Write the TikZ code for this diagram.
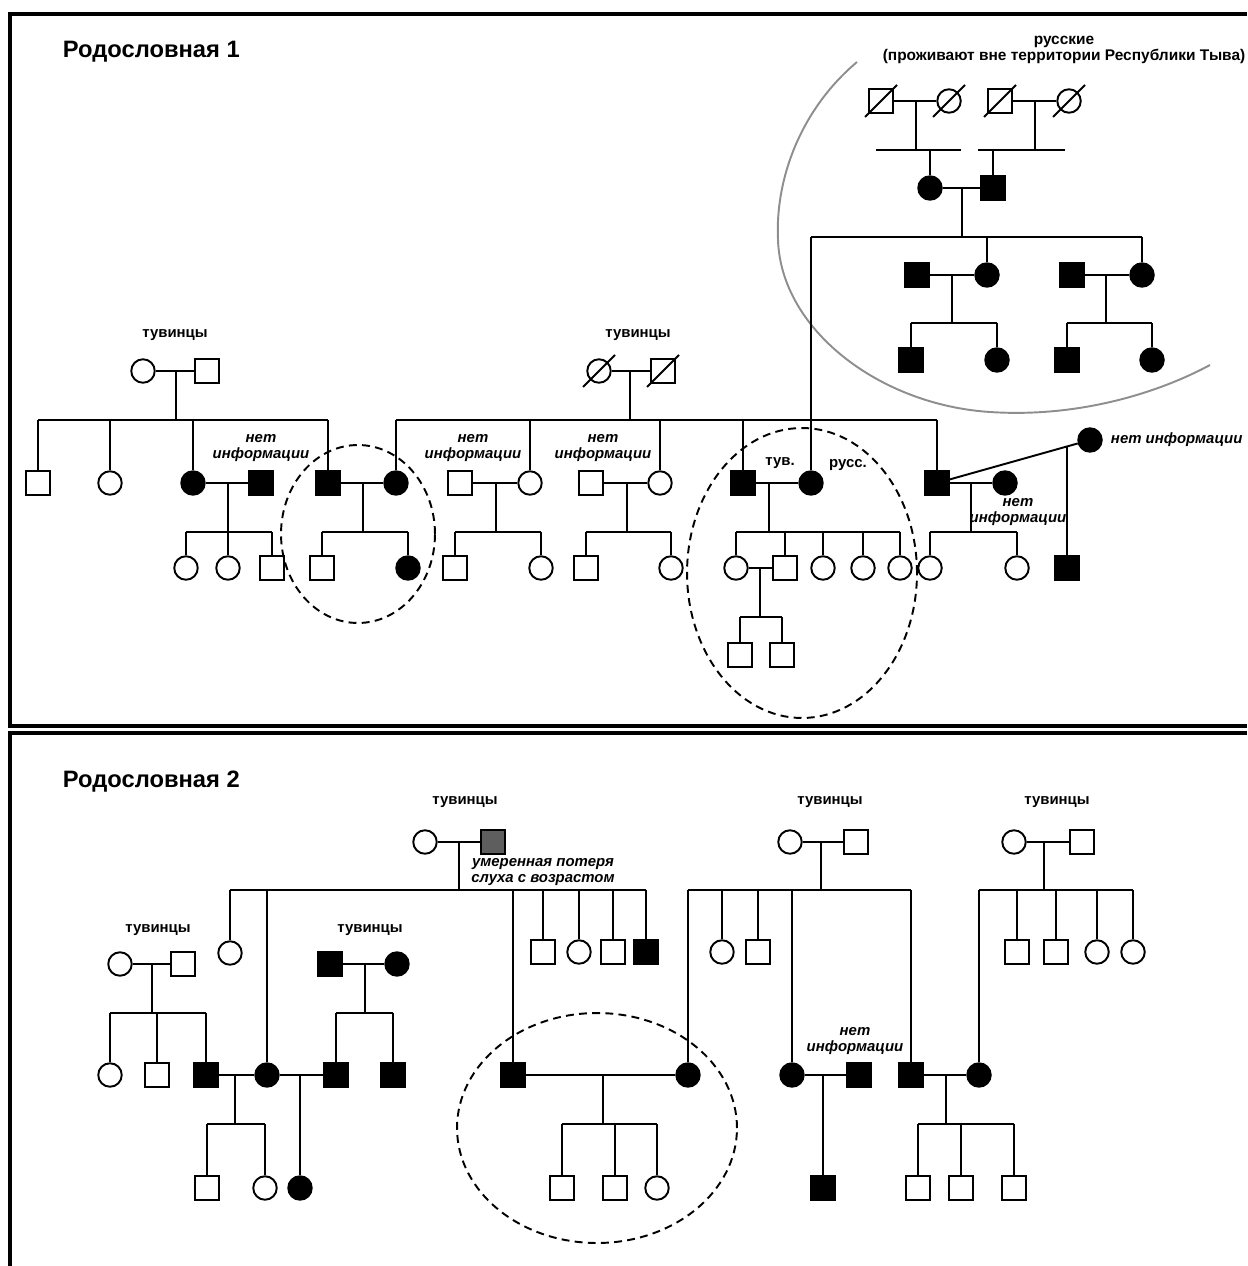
\documentclass[tikz,border=0pt]{standalone}
\usepackage{fontspec}
\setmainfont{Liberation Sans}
\usetikzlibrary{calc}
\definecolor{hearloss}{HTML}{5E5E5E}
\definecolor{ringgray}{HTML}{8E8E8E}

\begin{document}
\begin{tikzpicture}[x=0.02cm,y=-0.02cm,line width=1.1pt,
  sq/.style={draw,rectangle,minimum size=0.48cm,inner sep=0pt},
  ci/.style={draw,circle,minimum size=0.47cm,inner sep=0pt},
  aff/.style={fill=black},
  tag/.style={font=\bfseries\fontsize{8.5}{9}\selectfont,inner sep=0pt},
  note/.style={font=\bfseries\itshape\fontsize{8.5}{9}\selectfont,align=center,inner sep=0pt},
  headline/.style={font=\bfseries\fontsize{13.5}{16}\selectfont,anchor=west,inner sep=0pt},
  ring/.style={dash pattern=on 4.5pt off 3pt}]
  \useasboundingbox (0,0) rectangle (1247,1266);

  % frames
  \draw[line width=2.2pt] (1247,14) -- (10,14) -- (10,726) -- (1247,726);
  \draw[line width=2.2pt] (1247,733) -- (10,733) -- (10,1266);

  %%%%%%%%%% pedigree 1
  \node[headline] (t1) at (62,52) {Родословная 1};

  % Russian family
  \node[tag,align=center,font=\bfseries\fontsize{8.8}{9}\selectfont] (rusl) at (1064,50) {русские\\(проживают вне территории Республики Тыва)};
  \node[sq] (rA1) at (881,101) {};
  \node[ci] (rA2) at (949,101) {};
  \node[sq] (rA3) at (1000,101) {};
  \node[ci] (rA4) at (1069,101) {};
  \foreach \n in {rA1,rA2,rA3,rA4} \draw ($(\n)+(-16,16)$) -- ($(\n)+(16,-16)$);
  \node[ci,aff] (rB1) at (930,188) {};
  \node[sq,aff] (rB2) at (993,188) {};
  \node[sq,aff] (rC1) at (917,275) {};
  \node[ci,aff] (rC2) at (987,275) {};
  \node[sq,aff] (rC3) at (1072,275) {};
  \node[ci,aff] (rC4) at (1142,275) {};
  \node[sq,aff] (rD1) at (911,360) {};
  \node[ci,aff] (rD2) at (997,360) {};
  \node[sq,aff] (rD3) at (1067,360) {};
  \node[ci,aff] (rD4) at (1152,360) {};

  \coordinate (mrA) at (916,101); \coordinate (srA) at (916,150);
  \coordinate (mrA2) at (1035,101); \coordinate (srA2) at (1035,150);
  \coordinate (mrB) at (962,188); \coordinate (srB) at (962,237);
  \coordinate (mrC) at (952,275); \coordinate (srC) at (952,323);
  \coordinate (mrC2) at (1106,275); \coordinate (srC2) at (1106,323);
  \draw (rA1) -- (rA2); \draw (mrA) -- (srA);
  \draw ($(srA)+(-40,0)$) -- ($(srA)+(45,0)$);
  \draw (rB1 |- srA) -- (rB1);
  \draw (rA3) -- (rA4); \draw (mrA2) -- (srA2);
  \draw ($(srA2)+(-57,0)$) -- ($(srA2)+(30,0)$);
  \draw (rB2 |- srA2) -- (rB2);
  \draw (rB1) -- (rB2); \draw (mrB) -- (srB);
  \draw (rC1) -- (rC2); \draw (mrC) -- (srC);
  \draw (rD1 |- srC) -- (rD2 |- srC);
  \foreach \c in {rD1,rD2} \draw (\c |- srC) -- (\c);
  \draw (rC3) -- (rC4); \draw (mrC2) -- (srC2);
  \draw (rD3 |- srC2) -- (rD4 |- srC2);
  \foreach \c in {rD3,rD4} \draw (\c |- srC2) -- (\c);

  % grey border of the Russian group
  \draw[ringgray] (857,62) .. controls (800,110) and (775,180) .. (778,240)
    .. controls (781,330) and (880,405) .. (990,412)
    .. controls (1080,418) and (1160,392) .. (1210,365);

  % first Tuvan couple
  \node[tag] (tl1) at (175,335) {тувинцы};
  \node[ci] (tA1) at (143,371) {};
  \node[sq] (tA2) at (207,371) {};
  \node[sq] (tB1) at (38,483) {};
  \node[ci] (tB2) at (110,483) {};
  \node[ci,aff] (tB3) at (193,483) {};
  \node[sq,aff] (tB3p) at (261,483) {};
  \node[note] (tn1) at (261,448) {нет\\информации};
  \node[sq,aff] (tB4) at (328,483) {};
  \node[ci] (tC1) at (186,568) {};
  \node[ci] (tC2) at (228,568) {};
  \node[sq] (tC3) at (272,568) {};
  \node[sq] (tC4) at (322,568) {};
  \node[ci,aff] (tC5) at (408,568) {};

  \coordinate (mtA) at (176,371); \coordinate (stA) at (176,420);
  \coordinate (mtB) at (228,483); \coordinate (stB) at (228,532);
  \coordinate (mtu) at (363,483); \coordinate (stu) at (363,532);
  \draw (tA1) -- (tA2); \draw (mtA) -- (stA);
  \draw (tB1 |- stA) -- (tB4 |- stA);
  \foreach \c in {tB1,tB2,tB3,tB4} \draw (\c |- stA) -- (\c);
  \draw (tB3) -- (tB3p); \draw (mtB) -- (stB);
  \draw (tC1 |- stB) -- (tC3 |- stB);
  \foreach \c in {tC1,tC2,tC3} \draw (\c |- stB) -- (\c);

  % second Tuvan couple
  \node[tag] (tl2) at (638,335) {тувинцы};
  \node[ci] (uA1) at (599,371) {};
  \node[sq] (uA2) at (663,371) {};
  \foreach \n in {uA1,uA2} \draw ($(\n)+(-16,16)$) -- ($(\n)+(16,-16)$);
  \node[ci,aff] (uB1) at (396,483) {};
  \node[sq] (uB2p) at (460,483) {};
  \node[note] (un1) at (473,448) {нет\\информации};
  \node[ci] (uB2) at (530,483) {};
  \node[sq] (uB3p) at (591,483) {};
  \node[note] (un2) at (603,448) {нет\\информации};
  \node[ci] (uB3) at (660,483) {};
  \node[sq,aff] (uB4) at (743,483) {};
  \node[tag] (tuv) at (780,463) {тув.};
  \node[ci,aff] (pR) at (811,483) {};
  \node[tag] (rus) at (848,465) {русс.};
  \node[sq,aff] (uB5) at (937,483) {};
  \node[ci,aff] (uB5a) at (1005,483) {};
  \node[note] (un3) at (1018,512) {нет\\информации};
  \node[ci,aff] (uB5b) at (1090,440) {};
  \node[note,anchor=west] (un4) at (1110,440) {нет информации};
  \node[sq] (uC1) at (455,568) {};
  \node[ci] (uC2) at (541,568) {};
  \node[sq] (uC3) at (586,568) {};
  \node[ci] (uC4) at (671,568) {};
  \node[ci] (uC5) at (736,568) {};
  \node[sq] (uC6) at (785,568) {};
  \node[ci] (uC7) at (823,568) {};
  \node[ci] (uC8) at (863,568) {};
  \node[ci] (uC9) at (900,568) {};
  \node[ci] (uC10) at (930,568) {};
  \node[ci] (uC11) at (1017,568) {};
  \node[sq,aff] (uC12) at (1067,568) {};
  \node[sq] (uD1) at (740,655) {};
  \node[sq] (uD2) at (782,655) {};

  \coordinate (muA) at (630,371); \coordinate (suA) at (630,420);
  \coordinate (mu2) at (496,483); \coordinate (su2) at (496,532);
  \coordinate (mu3) at (627,483); \coordinate (su3) at (627,532);
  \coordinate (mu4) at (769,483); \coordinate (su4) at (769,532);
  \coordinate (mu5) at (971,483); \coordinate (su5) at (971,532);
  \coordinate (mu6) at (760,568); \coordinate (su6) at (760,617);
  \coordinate (mu7) at ($(uB5)!0.85!(uB5b)$);
  \draw (uA1) -- (uA2); \draw (muA) -- (suA);
  \draw (uB1 |- suA) -- (uB5 |- suA);
  \foreach \c in {uB1,uB2,uB3,uB4,uB5} \draw (\c |- suA) -- (\c);
  \draw (tB4) -- (uB1); \draw (mtu) -- (stu);
  \draw (tC4 |- stu) -- (tC5 |- stu);
  \foreach \c in {tC4,tC5} \draw (\c |- stu) -- (\c);
  \draw (uB2p) -- (uB2); \draw (mu2) -- (su2);
  \draw (uC1 |- su2) -- (uC2 |- su2);
  \foreach \c in {uC1,uC2} \draw (\c |- su2) -- (\c);
  \draw (uB3p) -- (uB3); \draw (mu3) -- (su3);
  \draw (uC3 |- su3) -- (uC4 |- su3);
  \foreach \c in {uC3,uC4} \draw (\c |- su3) -- (\c);
  \draw (uB4) -- (pR); \draw (mu4) -- (su4);
  \draw (uC5 |- su4) -- (uC9 |- su4);
  \foreach \c in {uC5,uC6,uC7,uC8,uC9} \draw (\c |- su4) -- (\c);
  \draw (uC5) -- (uC6); \draw (mu6) -- (su6);
  \draw (uD1 |- su6) -- (uD2 |- su6);
  \foreach \c in {uD1,uD2} \draw (\c |- su6) -- (\c);
  \draw (uB5) -- (uB5a); \draw (mu5) -- (su5);
  \draw (uC10 |- su5) -- (uC11 |- su5);
  \foreach \c in {uC10,uC11} \draw (\c |- su5) -- (\c);
  \draw (uB5) -- (uB5b); \draw (mu7) -- (mu7 |- uC12.north);

  % Russian line down to the wife
  \draw (pR |- srB) -- (rC4 |- srB);
  \foreach \c in {pR,rC2,rC4} \draw (\c |- srB) -- (\c);

  % dashed rings
  \draw[ring] (358,534) ellipse [x radius=1.54cm, y radius=1.78cm];
  \draw[ring] (802,573) ellipse [x radius=2.3cm, y radius=2.9cm];

  %%%%%%%%%% pedigree 2
  \node[headline] (t2) at (62,782) {Родословная 2};

  \node[tag] (vl) at (465,802) {тувинцы};
  \node[ci] (vA1) at (425,842) {};
  \node[sq,fill=hearloss] (vA2) at (493,842) {};
  \node[note] (vn) at (543,872) {умеренная потеря\\слуха с возрастом};
  \node[ci] (vB1) at (230,953) {};
  \node[sq] (vB4) at (543,952) {};
  \node[ci] (vB5) at (579,952) {};
  \node[sq] (vB6) at (613,952) {};
  \node[sq,aff] (vB7) at (646,952) {};

  \node[tag] (xl) at (830,802) {тувинцы};
  \node[ci] (xA1) at (790,842) {};
  \node[sq] (xA2) at (856,842) {};
  \node[ci] (xB1) at (722,952) {};
  \node[sq] (xB2) at (758,952) {};

  \node[tag] (yl) at (1057,802) {тувинцы};
  \node[ci] (yA1) at (1014,842) {};
  \node[sq] (yA2) at (1082,842) {};
  \node[sq] (yB1) at (1017,952) {};
  \node[sq] (yB2) at (1056,952) {};
  \node[ci] (yB3) at (1097,952) {};
  \node[ci] (yB4) at (1133,952) {};

  \node[tag] (wl) at (158,930) {тувинцы};
  \node[ci] (wA1) at (120,964) {};
  \node[sq] (wA2) at (183,964) {};
  \node[tag] (zl) at (370,930) {тувинцы};
  \node[sq,aff] (zA1) at (330,964) {};
  \node[ci,aff] (zA2) at (397,964) {};

  % third generation
  \node[ci] (wB1) at (110,1075) {};
  \node[sq] (wB2) at (157,1075) {};
  \node[sq,aff] (wB3) at (206,1075) {};
  \node[ci,aff] (vB2) at (267,1075) {};
  \node[sq,aff] (zB1) at (336,1075) {};
  \node[sq,aff] (zB2) at (393,1075) {};
  \node[sq,aff] (vB3) at (513,1075) {};
  \node[ci,aff] (xB0) at (688,1075) {};
  \node[ci,aff] (xB3) at (792,1075) {};
  \node[sq,aff] (xB3p) at (859,1075) {};
  \node[note] (xn) at (855,1041) {нет\\информации};
  \node[sq,aff] (xB4) at (911,1075) {};
  \node[ci,aff] (yB0) at (979,1075) {};

  % fourth generation
  \node[sq] (wC1) at (207,1188) {};
  \node[ci] (wC2) at (265,1188) {};
  \node[ci,aff] (zC1) at (300,1188) {};
  \node[sq] (vC1) at (562,1188) {};
  \node[sq] (vC2) at (615,1188) {};
  \node[ci] (vC3) at (657,1188) {};
  \node[sq,aff] (xC1) at (823,1188) {};
  \node[sq] (xC2) at (918,1188) {};
  \node[sq] (xC3) at (961,1188) {};
  \node[sq] (xC4) at (1014,1188) {};

  \coordinate (mvA) at (459,842); \coordinate (svA) at (459,890);
  \coordinate (mxA) at (821,842); \coordinate (sxA) at (821,890);
  \coordinate (myA) at (1044,842); \coordinate (syA) at (1044,890);
  \coordinate (mwA) at (152,964); \coordinate (swA) at (152,1013);
  \coordinate (mzA) at (365,964); \coordinate (szA) at (365,1013);
  \coordinate (mwv) at (235,1075); \coordinate (swv) at (235,1124);
  \coordinate (mvz) at (300,1075);
  \coordinate (mvx) at (603,1075); \coordinate (svx) at (603,1124);
  \coordinate (mxx) at (823,1075);
  \coordinate (mxy) at (946,1075); \coordinate (sxy) at (946,1124);

  \draw (vA1) -- (vA2); \draw (mvA) -- (svA);
  \draw (vB1 |- svA) -- (vB7 |- svA);
  \foreach \c in {vB1,vB2,vB3,vB4,vB5,vB6,vB7} \draw (\c |- svA) -- (\c);
  \draw (xA1) -- (xA2); \draw (mxA) -- (sxA);
  \draw (xB0 |- sxA) -- (xB4 |- sxA);
  \foreach \c in {xB0,xB1,xB2,xB3,xB4} \draw (\c |- sxA) -- (\c);
  \draw (yA1) -- (yA2); \draw (myA) -- (syA);
  \draw (yB0 |- syA) -- (yB4 |- syA);
  \foreach \c in {yB0,yB1,yB2,yB3,yB4} \draw (\c |- syA) -- (\c);
  \draw (wA1) -- (wA2); \draw (mwA) -- (swA);
  \draw (wB1 |- swA) -- (wB3 |- swA);
  \foreach \c in {wB1,wB2,wB3} \draw (\c |- swA) -- (\c);
  \draw (zA1) -- (zA2); \draw (mzA) -- (szA);
  \draw (zB1 |- szA) -- (zB2 |- szA);
  \foreach \c in {zB1,zB2} \draw (\c |- szA) -- (\c);

  \draw (wB3) -- (vB2); \draw (mwv) -- (swv);
  \draw (wC1 |- swv) -- (wC2 |- swv);
  \foreach \c in {wC1,wC2} \draw (\c |- swv) -- (\c);
  \draw (vB2) -- (zB1); \draw (mvz) -- (zC1);
  \draw (vB3) -- (xB0); \draw (mvx) -- (svx);
  \draw (vC1 |- svx) -- (vC3 |- svx);
  \foreach \c in {vC1,vC2,vC3} \draw (\c |- svx) -- (\c);
  \draw (xB3) -- (xB3p); \draw (mxx) -- (xC1);
  \draw (xB4) -- (yB0); \draw (mxy) -- (sxy);
  \draw (xC2 |- sxy) -- (xC4 |- sxy);
  \foreach \c in {xC2,xC3,xC4} \draw (\c |- sxy) -- (\c);

  \draw[ring] (597,1128) ellipse [x radius=2.8cm, y radius=2.3cm];
\end{tikzpicture}
\end{document}
